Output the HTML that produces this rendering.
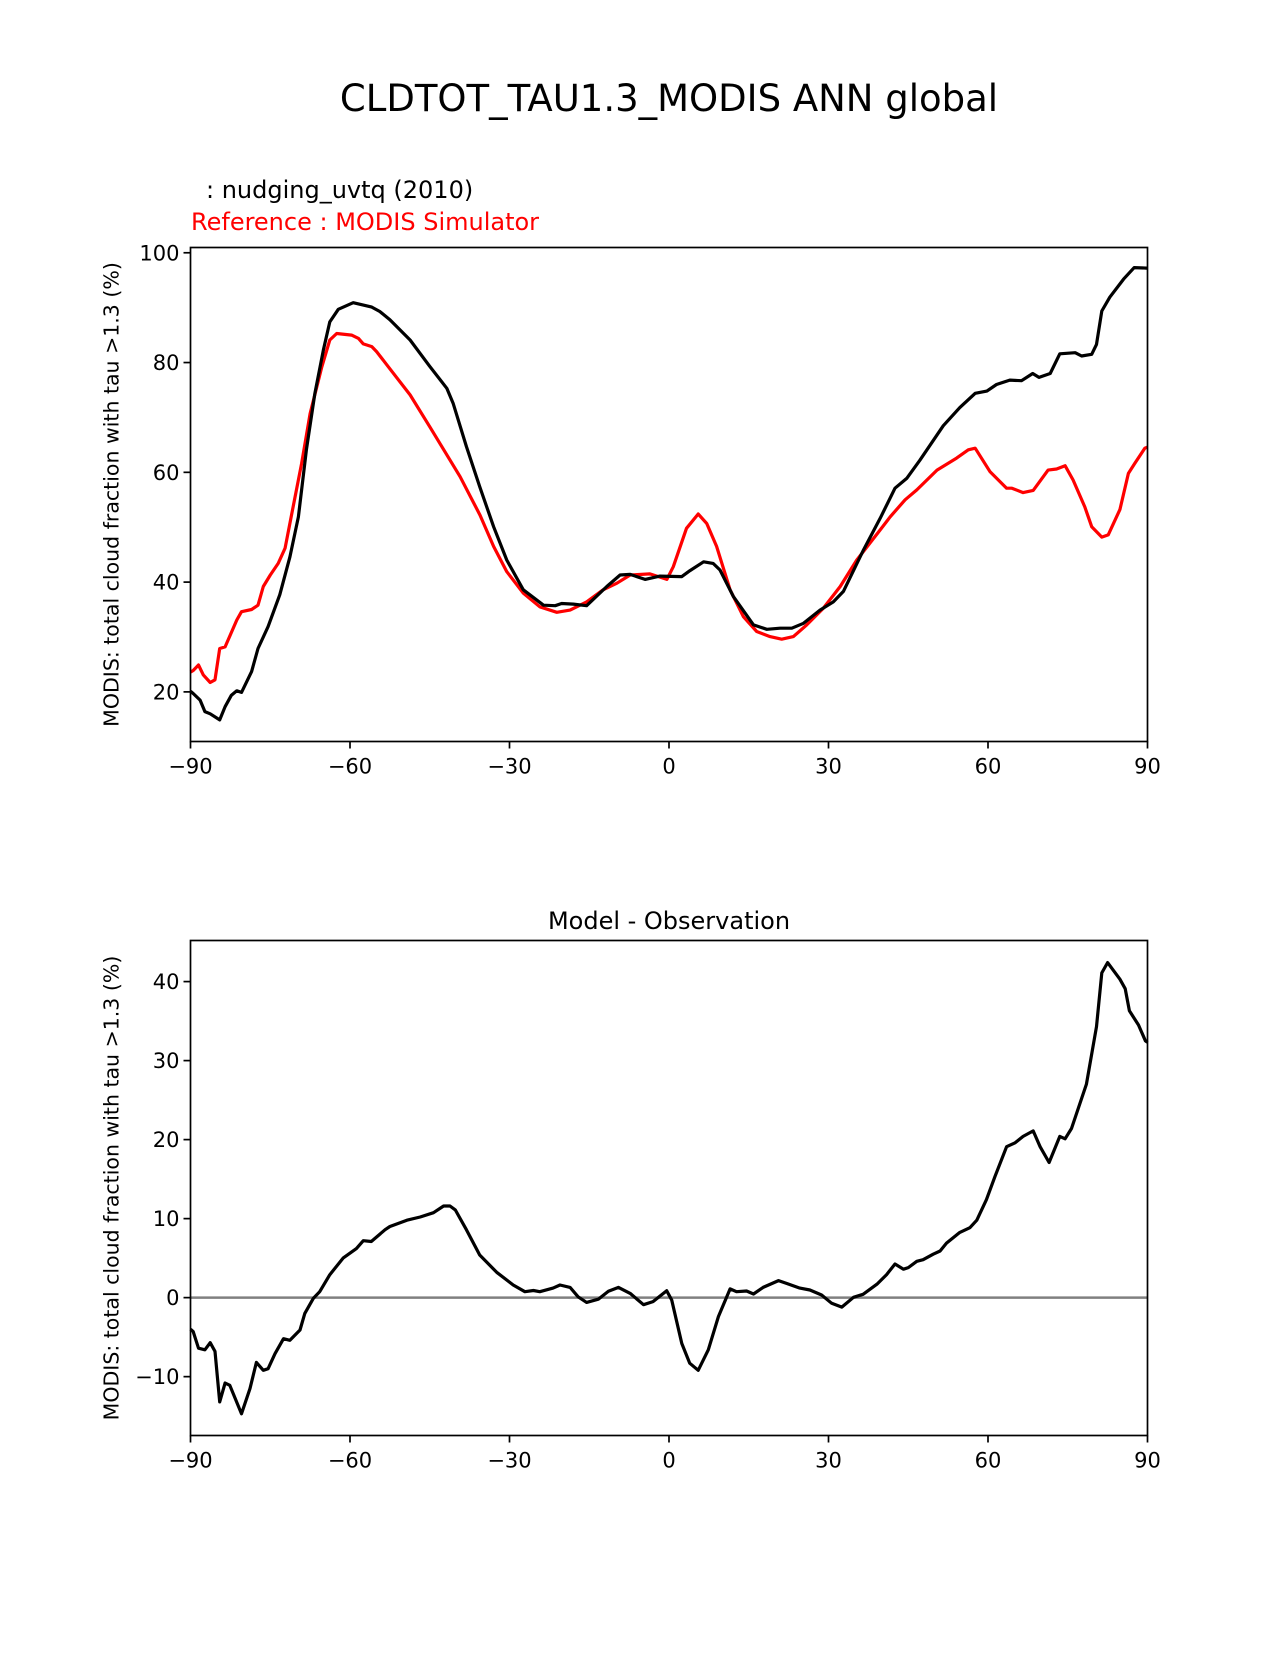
<!DOCTYPE html>
<html><head><meta charset="utf-8">
<style>
body{margin:0;background:#fff;}
svg text{font-family:"DejaVu Sans","Liberation Sans",sans-serif;}
</style></head>
<body>
<svg id="fig" width="1275" height="1650" xmlns="http://www.w3.org/2000/svg">
<rect width="1275" height="1650" fill="#fff"/>
<text x="669" y="111" font-size="37" text-anchor="middle">CLDTOT_TAU1.3_MODIS ANN global</text>
<text x="206" y="198" font-size="24">: nudging_uvtq (2010)</text>
<text x="191" y="230" font-size="24" fill="red">Reference : MODIS Simulator</text>
<text x="669" y="929" font-size="24" text-anchor="middle">Model - Observation</text>
<g id="top"></g>
<g id="bot"></g>
</svg>
<script>
const modelLat=[-90,-89.5,-88.2,-87.3,-86.3,-84.5,-83.5,-82.3,-81.3,-80.4,-78.5,-77.3,-75.4,-73.2,-71.3,-69.7,-68.2,-66.6,-65,-63.8,-62.2,-59.4,-55.9,-54.4,-52.5,-48.7,-45,-41.8,-40.6,-38.1,-35.6,-33,-30.5,-27.4,-23.6,-21.4,-20.2,-18,-15.5,-11.7,-9.2,-7.3,-4.5,-1.7,2.4,3.95,6.5,8.3,9.6,12.1,15.9,18.4,20.9,23.1,25.3,28.4,30.9,32.8,36.6,39.7,42.5,44.7,47.2,51.6,54.7,57.6,59.8,61.6,64.1,66.3,68.4,69.6,71.7,73.5,76.4,77.6,79.5,80.4,81.4,82.9,85.5,87.5,89.8,90];
const modelVal=[20.1,19.7,18.5,16.4,16.0,14.9,17.3,19.4,20.2,19.9,23.7,27.9,31.9,37.7,44.6,51.9,64.1,74.4,82.3,87.4,89.7,90.9,90.1,89.3,87.8,84.1,79.3,75.3,72.6,64.7,57.4,50.1,44.0,38.6,35.8,35.7,36.1,36.0,35.7,39.2,41.3,41.4,40.5,41.1,41.0,42.1,43.7,43.4,42.2,37.4,32.2,31.4,31.6,31.6,32.5,34.9,36.4,38.3,45.9,51.6,57.1,58.9,62.2,68.5,71.8,74.4,74.8,76.0,76.8,76.7,78.0,77.3,78.0,81.6,81.8,81.2,81.5,83.3,89.4,91.9,95.2,97.3,97.2,97.2];
const refLat=[-90,-89.5,-88.5,-87.6,-86.3,-85.4,-84.5,-83.5,-81.3,-80.4,-78.5,-77.3,-76.3,-75,-73.5,-72.2,-70.7,-69.1,-67.5,-65.3,-63.8,-62.5,-59.7,-58.4,-57.5,-55.9,-55,-53.1,-48.7,-45,-39.3,-35.55,-33,-30.5,-27.4,-24.3,-21.1,-18.6,-15.5,-12.4,-9.8,-7.3,-3.6,-0.4,0.8,3.3,5.5,7.1,8.96,11.5,14,16.5,19,21.2,23.4,25.9,29,32.2,35.3,39.7,41.6,44.4,46.6,50.4,54.1,56.3,57.6,60.4,63.5,64.5,66.6,68.5,71.3,72.9,74.5,76,78.2,79.5,81.4,82.6,84.8,86.4,87.6,89.5,90];
const refVal=[23.6,23.9,24.9,23.1,21.7,22.2,27.9,28.2,33.1,34.6,35.0,35.8,39.2,41.3,43.4,46.2,53.7,61.6,70.7,79.2,84.1,85.3,85.0,84.4,83.4,82.9,82.0,79.6,74.1,68.3,59.2,52.2,46.5,41.9,38.0,35.5,34.5,34.9,36.4,38.6,39.8,41.3,41.5,40.5,42.8,49.8,52.4,50.7,46.5,38.6,33.7,31.0,30.07,29.6,30.07,32.2,35.2,39.2,44.0,49.5,51.9,55.0,56.8,60.4,62.6,64.1,64.4,60.1,57.1,57.1,56.3,56.7,60.4,60.6,61.2,58.6,53.7,50.1,48.2,48.6,53.2,59.8,61.6,64.4,64.6];
const diffLat=[-90,-89.5,-88.5,-87.3,-86.3,-85.4,-84.5,-83.5,-82.6,-80.4,-78.8,-77.6,-76.3,-75.4,-74.1,-72.5,-71.3,-69.4,-68.5,-66.9,-65.7,-63.8,-61.3,-58.8,-57.5,-56,-53.4,-52.5,-49.3,-46.8,-44.3,-42.4,-41.2,-40.2,-38.1,-35.6,-32.4,-29.3,-27.1,-25.5,-24.3,-21.8,-20.5,-18.6,-17.1,-15.5,-13.3,-11.4,-9.5,-7.3,-4.8,-3,-0.44,0.5,2.4,3.9,5.5,7.4,9.3,11.5,12.7,14.6,15.9,17.7,20.6,22.1,24.6,26.5,28.7,30.6,32.5,34.7,36.5,39.1,40.9,42.5,44.1,45,46.6,47.8,49.7,51,52.2,54.7,56.6,57.9,59.7,61.3,63.5,65.1,66.6,68.5,69.8,71.5,73.5,74.5,75.7,78.5,80.4,81.4,82.5,84.8,85.8,86.6,88.3,89.6,90];
const diffVal=[-4.0,-4.3,-6.4,-6.6,-5.7,-6.8,-13.2,-10.8,-11.1,-14.7,-11.5,-8.2,-9.2,-9.0,-7.1,-5.2,-5.4,-4.1,-2.0,-0.1,0.75,2.9,5.0,6.2,7.2,7.1,8.6,9.0,9.8,10.2,10.75,11.6,11.6,11.1,8.6,5.4,3.2,1.6,0.75,0.9,0.75,1.2,1.6,1.3,0.1,-0.6,-0.2,0.8,1.3,0.54,-0.9,-0.5,0.88,-0.3,-5.8,-8.3,-9.2,-6.6,-2.4,1.1,0.75,0.84,0.46,1.3,2.15,1.8,1.2,0.97,0.33,-0.72,-1.2,0.04,0.42,1.7,2.9,4.26,3.6,3.8,4.6,4.8,5.5,5.9,6.9,8.25,8.85,9.8,12.4,15.3,19.1,19.6,20.4,21.1,19.1,17.1,20.4,20.1,21.4,27.0,34.3,41.1,42.4,40.3,39.1,36.3,34.5,32.5,32.3];
const xTicks=[-90,-60,-30,0,30,60,90];
const xTickLabels=["\u221290","\u221260","\u221230","0","30","60","90"];
const topYTicks=[20,40,60,80,100];
const botYTicks=[-10,0,10,20,30,40];
const botYLabels=["\u221210","0","10","20","30","40"];
const NS="http://www.w3.org/2000/svg";
function mk(parent,tag,attrs){const e=document.createElementNS(NS,tag);for(const k in attrs)e.setAttribute(k,attrs[k]);parent.appendChild(e);return e;}
const L=190.5,R=1147.5;
const xs=v=>L+(v+90)/180*(R-L);
function axes(g,top,bot,ymin,ymax,yticks,ylabels,name){
  const ys=v=>bot-(v-ymin)/(ymax-ymin)*(bot-top);
  xTicks.forEach((t,i)=>{
    const l=mk(g,'line',{x1:xs(t),x2:xs(t),y1:bot,y2:bot+7,stroke:'#000','stroke-width':'1.7'});
    
    
    const tx=mk(g,'text',{x:xs(t),y:bot+32,'font-size':'21','text-anchor':'middle'});tx.textContent=xTickLabels[i];
    
    
  });
  yticks.forEach((t,i)=>{
    mk(g,'line',{x1:L-7,x2:L,y1:ys(t),y2:ys(t),stroke:'#000','stroke-width':'1.7'});
    const tx=mk(g,'text',{x:L-11,y:ys(t)+7.5,'font-size':'21','text-anchor':'end'});tx.textContent=ylabels[i];
    
    
  });
  const yt=mk(g,'text',{x:0,y:0,'font-size':'20.5','text-anchor':'middle',transform:`translate(${L-72},${(top+bot)/2}) rotate(-90)`});
  yt.textContent='MODIS: total cloud fraction with tau >1.3 (%)';
  
  
  return ys;
}
function line(g,lat,val,ys,color,name){
  const d=lat.map((v,i)=>(i?'L':'M')+xs(v).toFixed(1)+','+ys(val[i]).toFixed(1)).join(' ');
  const p=mk(g,'path',{d:d,fill:'none',stroke:color,'stroke-width':'3.2','stroke-linejoin':'round'});
  
  
}
const gt=document.getElementById('top');
const ys1=axes(gt,247.5,741.5,10.96,100.96,topYTicks,topYTicks.map(String),'top');
line(gt,refLat,refVal,ys1,'#ff0000','reference-line');
line(gt,modelLat,modelVal,ys1,'#000','model-line');
mk(gt,'rect',{x:L,y:247.5,width:R-L,height:494,fill:'none',stroke:'#000','stroke-width':'1.7'});
const gb=document.getElementById('bot');
const ys2=axes(gb,940.5,1435.5,-17.45,45.2,botYTicks,botYLabels,'bottom');
const z=mk(gb,'line',{x1:L,x2:R,y1:ys2(0),y2:ys2(0),stroke:'#808080','stroke-width':'2.5'});


line(gb,diffLat,diffVal,ys2,'#000','difference-line');
mk(gb,'rect',{x:L,y:940.5,width:R-L,height:495,fill:'none',stroke:'#000','stroke-width':'1.7'});
</script>
</body></html>
